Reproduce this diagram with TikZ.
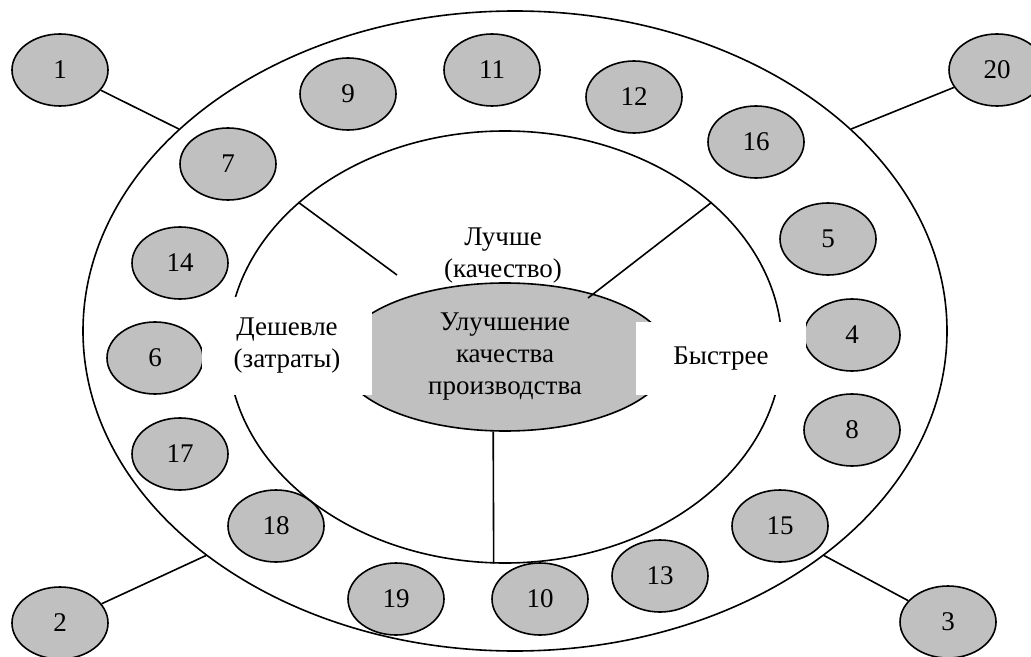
\documentclass[tikz,border=0pt]{standalone}
\usepackage{fontspec}
\setmainfont{Liberation Serif}
\usetikzlibrary{shapes.geometric}
\definecolor{oval}{RGB}{192,192,192}
\tikzset{
  txt/.style={font=\fontsize{13.5}{16}\selectfont},
  ring/.style={ellipse, draw, line width=0.8pt, inner sep=0pt},
  num/.style={ring, txt, fill=oval, minimum width=48pt, minimum height=36pt},
  gapbox/.style={txt, fill=white, inner sep=0pt, align=center},
  spoke/.style={line width=0.8pt}
}

\begin{document}
\begin{tikzpicture}[x=0.5pt,y=-0.5pt]
			\useasboundingbox (0,0) rectangle (1031,657);
			%%%%% START %%%%%
			\node[ring, minimum width=432pt, minimum height=320pt] (outer) at (515,331) {};
			
			\foreach \n/\x/\y in {1/60/70, 20/997/70, 2/60/623, 3/948/622,
				9/348/94, 11/492/70, 12/634/97, 16/756/142, 5/828/239,
				4/852/335, 8/852/430, 15/780/526, 13/660/576, 10/540/599,
				19/396/599, 18/276/526, 17/180/454, 6/155/358, 14/180/263, 7/228/164}
				\node[num] (n\n) at (\x,\y) {\n};
			
			\node[ring, minimum width=277pt, minimum height=216pt] (inner) at (505,347) {};
			\node[ring, txt, fill=oval, align=center, minimum width=165pt, minimum height=74pt] (core) at (505,357)
				{Улучшение\\качества\\производства};
			
			\node[gapbox, minimum width=85pt, minimum height=49pt] (cheap) at (287,346) {Дешевле\\(затраты)};
			\node[gapbox, minimum width=85pt, minimum height=36.5pt] (fast) at (721,358.5) {Быстрее};
			\node[txt, align=center] (better) at (503,256) {Лучше\\(качество)};
			
			\coordinate (ul) at (397,275);
			\coordinate (ur) at (588,298);
			\draw[spoke] (inner.145) -- (ul);
			\draw[spoke] (inner.35) -- (ur);
			\draw[spoke] (core.261) -- (inner.267);
			
			\draw[spoke] (n1) -- (outer.149);
			\draw[spoke] (n20) -- (outer.31);
			\draw[spoke] (n2) -- (outer.216);
			\draw[spoke] (n3) -- (outer.324);
			%%%%% END %%%%%
\end{tikzpicture}
\end{document}
